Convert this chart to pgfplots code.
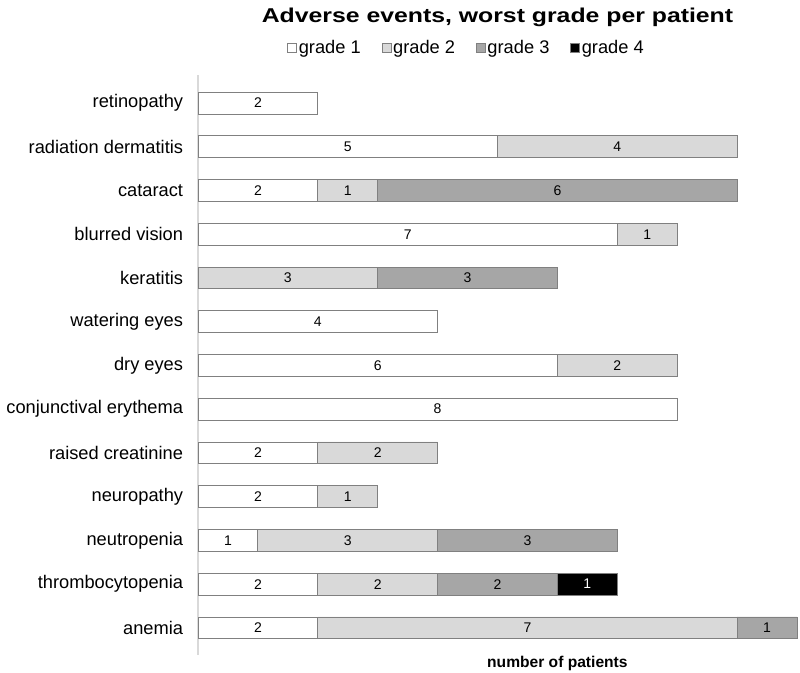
\documentclass[border=0pt]{standalone}
\usepackage{pgfplots}
\pgfplotsset{compat=1.18}
\usepackage{pgfplotstable}
\usepackage{fontspec}
\setmainfont{Liberation Sans}
\newfontfamily\titlefont[FakeStretch=1.24]{Liberation Sans}
\definecolor{g2}{HTML}{D9D9D9}
\definecolor{g3}{HTML}{A6A6A6}
\definecolor{edge}{HTML}{808080}
\definecolor{axisgray}{HTML}{D9D9D9}
\pgfplotsset{
  sqleg/.style={legend image code/.code={\draw[##1] (0pt,-3.4pt) rectangle (6.8pt,3.4pt);}},
  seglab/.style={
    visualization depends on={\thisrow{#1}\as\myv},
    nodes near coords={\ifdim\myv pt>0pt \pgfmathprintnumber{\myv}\fi},
    every node near coord/.append style={anchor=center, font=\fontsize{10.5}{12}\selectfont}},
}
\pgfplotstableread{
y g1 g2 g3 g4
0 2 7 1 0
1 2 2 2 1
2 1 3 3 0
3 2 1 0 0
4 2 2 0 0
5 8 0 0 0
6 6 2 0 0
7 4 0 0 0
8 0 3 3 0
9 7 1 0 0
10 2 1 6 0
11 5 4 0 0
12 2 0 0 0
}\data
\begin{document}
\begin{tikzpicture}
\path[use as bounding box] (-148.5pt,-13.5pt) rectangle (451.5pt,491.25pt);
\begin{axis}[
  at={(0pt,0pt)}, anchor=south west,
  scale only axis, width=449.25pt, height=435pt,
  xbar stacked, bar width=0.5,
  xmin=0, xmax=10, ymin=-0.62, ymax=12.64,
  /pgf/number format/assume math mode=true,
  axis lines*=left,
  axis line style={-},
  x axis line style={draw=none},
  y axis line style={draw=axisgray, line width=0.8pt},
  xtick=\empty,
  major tick length=0pt,
  ytick={0,...,12},
  yticklabels={anemia, thrombocytopenia, neutropenia, neuropathy, raised creatinine, conjunctival erythema, dry eyes, watering eyes, keratitis, blurred vision, cataract~, radiation dermatitis, retinopathy},
  yticklabel style={font=\fontsize{13.7}{16}\selectfont, inner sep=0pt, xshift=-11pt},
  clip=false,
  legend columns=4,
  legend cell align=left,
  legend style={draw=none, fill=none, at={(0.448,1.0466)}, anchor=center,
    font=\fontsize{13.7}{16}\selectfont,
    nodes={inner sep=1.2pt},
    /tikz/every even column/.append style={column sep=14.5pt},
    /tikz/every odd column/.append style={column sep=0pt}},
]
\addplot[fill=white, draw=edge, line width=0.6pt, sqleg, seglab=g1,
  every node near coord/.append style={text=black}]
  table[x=g1, y=y]{\data};
\addplot[fill=g2, draw=edge, line width=0.6pt, sqleg, seglab=g2,
  every node near coord/.append style={text=black}]
  table[x=g2, y=y]{\data};
\addplot[fill=g3, draw=edge, line width=0.6pt, sqleg, seglab=g3,
  every node near coord/.append style={text=black}]
  table[x=g3, y=y]{\data};
\addplot[fill=black, draw=edge, line width=0.6pt, sqleg, seglab=g4,
  every node near coord/.append style={text=white}]
  table[x=g4, y=y]{\data};
\legend{grade 1, grade 2, grade 3, grade 4}
\node[font=\titlefont\bfseries\fontsize{15}{18}\selectfont] at (rel axis cs:0.5,1) [yshift=43.5pt] {Adverse events, worst grade per patient};
\node[font=\bfseries\fontsize{11.7}{14}\selectfont] at (rel axis cs:0.6,0) [yshift=-6pt] {number of patients};
\end{axis}
\end{tikzpicture}
\end{document}
